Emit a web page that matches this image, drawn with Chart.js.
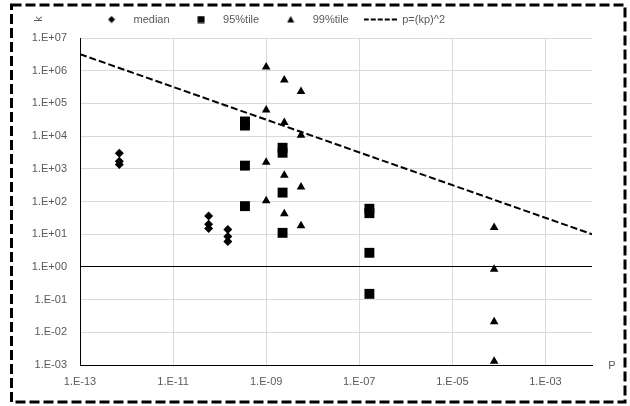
<!DOCTYPE html>
<html>
<head>
<meta charset="utf-8">
<script src="https://cdn.jsdelivr.net/npm/chart.js@4.4.0/dist/chart.umd.min.js"></script>
<style>
  html, body { margin: 0; padding: 0; background: #fff; }
</style>
</head>
<body>
<canvas id="kp" width="630" height="406"></canvas>
<script>
// median
var medianP = [7e-13, 7e-13, 7e-13, 5.8e-11, 5.8e-11, 5.8e-11, 1.5e-10, 1.5e-10, 1.5e-10];
var medianK = [3000, 1700, 1350, 36, 20, 15, 14, 8.5, 6];
// 95%tile
var p95P = [3.5e-10, 3.5e-10, 3.5e-10, 3.5e-10, 2.25e-9, 2.25e-9, 2.25e-9, 2.25e-9, 1.65e-7, 1.65e-7, 1.65e-7, 1.65e-7];
var p95K = [28000, 21000, 1250, 72, 4400, 3100, 187, 11, 60, 44, 2.7, 0.15];
// 99%tile
var p99P = [1e-9, 1e-9, 1e-9, 1e-9, 2.45e-9, 2.45e-9, 2.45e-9, 2.45e-9, 5.6e-9, 5.6e-9, 5.6e-9, 5.6e-9, 7.9e-5, 7.9e-5, 7.9e-5, 7.9e-5];
var p99K = [1.3e6, 63000, 1600, 105, 520000, 26000, 630, 42, 230000, 10700, 280, 18, 16, 0.85, 0.021, 0.0013];
// p=(kp)^2 end points
var lineP = [1e-13, 1e-2];
var lineK = [3.2e6, 10];

var xTicks = [1e-13, 1e-11, 1e-9, 1e-7, 1e-5, 1e-3];
var xTickLabels = ['1.E-13', '1.E-11', '1.E-09', '1.E-07', '1.E-05', '1.E-03'];
var yTicks = [1e-3, 1e-2, 1e-1, 1, 10, 100, 1000, 1e4, 1e5, 1e6, 1e7];
var yTickLabels = ['1.E-03', '1.E-02', '1.E-01', '1.E+00', '1.E+01', '1.E+02', '1.E+03', '1.E+04', '1.E+05', '1.E+06', '1.E+07'];

function pts(xs, ys) {
    return xs.map(function (x, i) { return { x: x, y: ys[i] }; });
}

// small legend symbols, drawn at their own size
function legendIcon(kind) {
    var cv = document.createElement('canvas');
    var g;
    if (kind === 'line') {
        cv.width = 33; cv.height = 4;
        g = cv.getContext('2d');
        g.strokeStyle = '#000';
        g.lineWidth = 2;
        g.setLineDash([5, 2]);
        g.beginPath(); g.moveTo(0, 2); g.lineTo(33, 2); g.stroke();
        return cv;
    }
    cv.width = 8; cv.height = 8;
    g = cv.getContext('2d');
    g.fillStyle = '#000';
    g.beginPath();
    if (kind === 'diamond') {
        g.moveTo(4, 0.5); g.lineTo(7.5, 4); g.lineTo(4, 7.5); g.lineTo(0.5, 4);
    } else if (kind === 'square') {
        g.rect(0.5, 0.5, 7, 7);
    } else {
        g.moveTo(4, 0.5); g.lineTo(7.5, 7); g.lineTo(0.5, 7);
    }
    g.closePath();
    g.fill();
    return cv;
}
var icons = [legendIcon('diamond'), legendIcon('square'), legendIcon('triangle'), legendIcon('line')];

Chart.defaults.font.family = '"Liberation Sans", Arial, sans-serif';
Chart.defaults.font.size = 11;
Chart.defaults.color = '#595959';

var extras = {
    id: 'extras',
    afterLayout: function (chart) {
        var lg = chart.legend;
        lg.left -= 26; lg.right -= 26;
        lg.top -= 3; lg.bottom -= 3;
    },
    afterDraw: function (chart) {
        var c = chart.ctx, a = chart.chartArea;
        c.save();
        c.fillStyle = '#595959';
        c.font = '11px "Liberation Sans"';
        c.textAlign = 'center';
        c.textBaseline = 'middle';
        c.fillText('P', a.right + 20, a.bottom + 1);
        c.translate(39, 19);
        c.rotate(-Math.PI / 2);
        c.fillText('k', 0, 0);
        c.restore();
        // dashed frame round the chart
        c.save();
        c.setLineDash([10, 4]);
        c.lineWidth = 3;
        c.strokeStyle = '#000';
        c.strokeRect(11.5, 5, 613.5, 397);
        c.restore();
    }
};

var ctx = document.getElementById('kp');
var myChart = new Chart(ctx, {
    type: 'scatter',
    data: {
        datasets: [
            {
                label: 'median',
                data: pts(medianP, medianK),
                pointStyle: 'rectRot',
                pointRadius: 4.5,
                backgroundColor: '#000',
                borderColor: '#000',
                borderWidth: 0
            },
            {
                label: '95%tile',
                data: pts(p95P, p95K),
                pointStyle: 'rect',
                pointRadius: 7,
                backgroundColor: '#000',
                borderColor: '#000',
                borderWidth: 0
            },
            {
                label: '99%tile',
                data: pts(p99P, p99K),
                pointStyle: 'triangle',
                pointRadius: 5,
                backgroundColor: '#000',
                borderColor: '#000',
                borderWidth: 0
            },
            {
                label: 'p=(kp)^2',
                data: pts(lineP, lineK),
                showLine: true,
                pointRadius: 0,
                borderColor: '#000',
                backgroundColor: '#000',
                borderWidth: 2,
                borderDash: [7, 3]
            }
        ]
    },
    options: {
        responsive: false,
        animation: false,
        layout: {
            padding: { left: 0, right: 38, top: 2, bottom: 0 }
        },
        plugins: {
            legend: {
                position: 'top',
                labels: {
                    usePointStyle: true,
                    pointStyleWidth: 33,
                    boxHeight: 6,
                    padding: 15,
                    color: '#595959',
                    generateLabels: function (chart) {
                        var items = Chart.defaults.plugins.legend.labels.generateLabels(chart);
                        items.forEach(function (it, i) { it.pointStyle = icons[i]; });
                        return items;
                    }
                }
            },
            tooltip: { enabled: false }
        },
        scales: {
            x: {
                type: 'logarithmic',
                min: 1e-13,
                max: 1e-2,
                afterBuildTicks: function (scale) {
                    scale.ticks = xTicks.map(function (v) { return { value: v }; });
                },
                afterFit: function (scale) { scale.height = 41; },
                ticks: {
                    autoSkip: false,
                    maxRotation: 0,
                    padding: 10,
                    callback: function (value, index) { return xTickLabels[index]; }
                },
                grid: {
                    drawTicks: false,
                    color: function (c) { return c.tick && c.tick.value === 1e-13 ? '#000' : '#d9d9d9'; }
                },
                border: { color: '#000' }
            },
            y: {
                type: 'logarithmic',
                min: 1e-3,
                max: 1e7,
                afterBuildTicks: function (scale) {
                    scale.ticks = yTicks.map(function (v) { return { value: v }; });
                },
                afterFit: function (scale) { scale.width = 80; },
                ticks: {
                    autoSkip: false,
                    padding: 13,
                    callback: function (value, index) { return yTickLabels[index]; }
                },
                grid: {
                    drawTicks: false,
                    color: function (c) {
                        if (!c.tick) return '#d9d9d9';
                        return (c.tick.value === 1 || c.tick.value === 1e-3) ? '#000' : '#d9d9d9';
                    }
                },
                border: { color: '#000' }
            }
        }
    },
    plugins: [extras]
});
</script>
</body>
</html>
